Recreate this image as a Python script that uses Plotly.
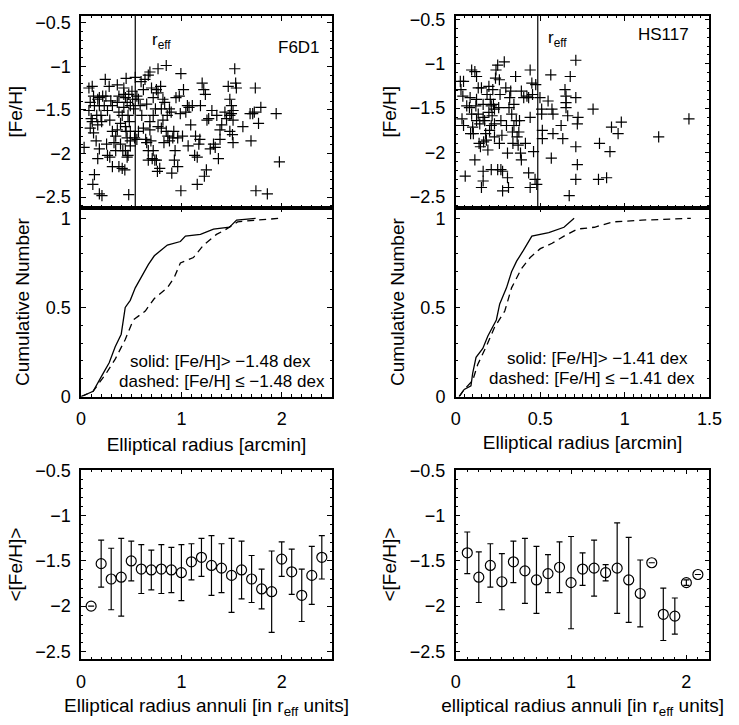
import plotly.graph_objects as go

# ---------------- F6D1 (left column) ----------------
f6_r = [0.03, 0.078, 0.111, 0.124, 0.091, 0.078, 0.133, 0.10, 0.091, 0.124, 0.111, 0.166, 0.182, 0.156,
        0.198, 0.15, 0.182, 0.166, 0.133, 0.117, 0.182, 0.208, 0.182, 0.215, 0.205, 0.166,
        0.241, 0.247, 0.231, 0.263, 0.28, 0.296, 0.312, 0.286, 0.312, 0.254, 0.263, 0.286, 0.328, 0.345,
        0.361, 0.361, 0.377, 0.393, 0.361, 0.345, 0.393, 0.416, 0.377, 0.41, 0.312, 0.436, 0.442, 0.449,
        0.426, 0.426, 0.442, 0.459, 0.426, 0.475, 0.491, 0.468, 0.481, 0.442, 0.491, 0.459, 0.491, 0.468,
        0.459, 0.524, 0.514, 0.507, 0.475, 0.491, 0.41, 0.449, 0.377,
        0.54, 0.533, 0.556, 0.556, 0.572, 0.589, 0.605, 0.598, 0.621, 0.637, 0.644, 0.654, 0.67, 0.686,
        0.686, 0.702, 0.719, 0.719, 0.735, 0.751, 0.741, 0.767, 0.767, 0.767, 0.784, 0.793, 0.80, 0.816,
        0.816, 0.826, 0.833, 0.849, 0.849, 0.859, 0.654, 0.67, 0.696, 0.709, 0.761, 0.572, 0.621, 0.67,
        0.719, 0.80, 0.751, 0.686,
        0.865, 0.881, 0.898, 0.881, 0.914, 0.904, 0.924, 0.93, 0.937, 0.946, 0.963, 0.963, 0.979, 0.989,
        0.995, 0.995, 1.011, 1.021, 1.044, 1.06, 1.067, 1.076, 1.093, 1.109, 1.132, 1.141, 1.158, 1.158,
        1.174, 1.19, 1.184,
        1.207, 1.223, 1.239, 1.255, 1.272, 1.229, 1.249, 1.288, 1.304, 1.32, 1.337, 1.353, 1.369, 1.385,
        1.402, 1.385, 1.434, 1.45, 1.467, 1.483, 1.483, 1.499, 1.499, 1.515, 1.515, 1.483, 1.532, 1.541,
        1.515, 1.548, 1.509,
        1.613, 1.685, 1.694, 1.711, 1.727, 1.737, 1.769, 1.792, 1.743, 1.857, 1.945, 1.977]
f6_feh = [-1.929, -1.248, -1.229, -1.34, -1.413, -1.506, -1.45, -1.598, -1.708, -1.763, -1.634, -1.377,
          -1.358, -1.561, -1.561, -1.855, -1.947, -2.058, -2.242, -2.353, -2.463, -2.482, -1.45, -1.34,
          -1.634, -1.671,
          -1.148, -1.34, -1.45, -1.506, -1.229, -1.395, -1.45, -1.616, -1.745, -1.892, -2.021, -2.04, -1.874,
          -1.966, -1.211, -1.413, -1.524, -1.653, -1.727, -1.80, -1.892, -1.966, -2.15, -2.169, -2.15,
          -2.187, -1.966, -1.137, -1.248, -1.321, -1.358, -1.413, -1.469, -1.321, -1.45, -1.561, -1.634,
          -1.69, -1.745, -1.819, -1.855, -2.021, -2.04, -1.487, -1.377, -1.285, -2.47, -1.911, -1.561,
          -1.745, -1.34,
          -1.126, -1.819, -1.837, -1.34, -1.377, -1.45, -1.561, -1.174, -1.266, -1.148, -1.837, -1.432,
          -1.10, -1.064, -1.634, -1.248, -1.358, -1.561, -2.076, -1.266, -1.487, -1.027, -1.303, -1.69,
          -2.169, -1.229, -1.487, -1.377, -1.616, -1.874, -1.413, -0.99, -1.745, -1.561, -1.874, -1.966,
          -1.855, -2.058, -2.205, -1.745, -1.708, -2.076, -1.966, -1.708, -2.076, -1.727,
          -1.80, -1.487, -1.524, -1.855, -1.819, -2.224, -1.745, -2.076, -1.966, -1.358, -1.819, -2.15,
          -1.34, -1.542, -1.082, -2.426, -1.80, -1.266, -1.524, -1.45, -1.911, -1.469, -1.671, -1.45,
          -2.021, -1.80, -2.04, -2.353, -1.892, -1.45, -1.837,
          -1.192, -1.266, -1.321, -1.616, -1.598, -2.26, -2.187, -1.947, -1.506, -1.892, -1.929, -1.561,
          -2.058, -1.727, -1.671, -1.837, -1.524, -1.598, -1.229, -1.377, -1.561, -1.45, -1.542, -1.506,
          -1.616, -1.745, -1.027, -1.192, -1.874, -1.248, -1.782,
          -1.69, -1.542, -1.855, -1.542, -1.524, -1.248, -1.653, -1.469, -2.426, -2.463, -1.542, -2.095]
f6_reff = 0.54

f6_solid_r = [0.00, 0.12, 0.21, 0.28, 0.34, 0.40, 0.44, 0.49, 0.54, 0.60, 0.67, 0.73, 0.86, 0.99, 1.04,
              1.19, 1.32, 1.48, 1.55, 1.74]
f6_solid_n = [0.00, 0.03, 0.12, 0.19, 0.28, 0.35, 0.50, 0.54, 0.61, 0.67, 0.74, 0.79, 0.85, 0.87, 0.90,
              0.91, 0.94, 0.95, 0.99, 1.00]
f6_dash_r = [0.00, 0.12, 0.25, 0.34, 0.44, 0.52, 0.64, 0.73, 0.86, 0.93, 0.99, 1.12, 1.22, 1.35, 1.42,
             1.56, 1.74, 1.98]
f6_dash_n = [0.00, 0.03, 0.13, 0.21, 0.32, 0.43, 0.48, 0.55, 0.61, 0.67, 0.75, 0.78, 0.85, 0.91, 0.93,
             0.98, 0.99, 1.00]

f6_ann = [0.1, 0.2, 0.3, 0.4, 0.5, 0.6, 0.7, 0.8, 0.9, 1.0, 1.1, 1.2, 1.3, 1.4, 1.5, 1.6, 1.7, 1.8,
          1.9, 2.0, 2.1, 2.2, 2.3, 2.4]
f6_mean = [-2.00, -1.53, -1.70, -1.68, -1.50, -1.59, -1.60, -1.59, -1.60, -1.63, -1.51, -1.46, -1.55,
           -1.58, -1.66, -1.60, -1.70, -1.81, -1.84, -1.48, -1.62, -1.88, -1.66, -1.46]
f6_err = [0.00, 0.26, 0.34, 0.43, 0.22, 0.27, 0.22, 0.27, 0.25, 0.31, 0.20, 0.21, 0.33, 0.27, 0.41,
          0.32, 0.26, 0.22, 0.45, 0.19, 0.25, 0.29, 0.32, 0.24]

# ---------------- HS117 (right column) ----------------
hs_r = [0.027, 0.046, 0.031, 0.042, 0.037, 0.046, 0.056, 0.065, 0.081, 0.085, 0.094, 0.10, 0.104, 0.088,
        0.094, 0.113, 0.123, 0.133, 0.123, 0.119, 0.133, 0.142, 0.138, 0.146, 0.123, 0.113, 0.162, 0.162,
        0.152, 0.152, 0.162, 0.162, 0.171, 0.177, 0.181, 0.165, 0.185, 0.196, 0.204, 0.21, 0.215, 0.196,
        0.21, 0.19, 0.20, 0.219, 0.223, 0.229, 0.235, 0.238, 0.229, 0.21, 0.229,
        0.248, 0.258, 0.262, 0.254, 0.267, 0.273, 0.258, 0.267, 0.287, 0.277, 0.296, 0.30, 0.306, 0.315,
        0.312, 0.306, 0.319, 0.325, 0.331, 0.335, 0.338, 0.344, 0.344, 0.354, 0.358, 0.363, 0.369, 0.373,
        0.377, 0.383, 0.388, 0.388, 0.402, 0.412, 0.421, 0.431, 0.44, 0.431, 0.44, 0.45, 0.454, 0.46,
        0.469, 0.473, 0.479, 0.44, 0.248, 0.277,
        0.498, 0.508, 0.508, 0.512, 0.512, 0.546, 0.562, 0.565, 0.569, 0.575, 0.575, 0.623, 0.633, 0.646,
        0.652, 0.652, 0.652, 0.662, 0.671, 0.677, 0.71, 0.71, 0.71, 0.719, 0.719, 0.723, 0.71,
        0.812, 0.85, 0.844, 0.892, 0.912, 0.921, 0.96, 0.979, 1.20, 1.379]
hs_feh = [-1.199, -1.199, -1.29, -1.364, -1.621, -1.695, -2.265, -1.474, -1.493, -1.382, -1.566, -1.713,
          -1.787, -1.787, -1.07, -1.088, -1.143, -1.272, -1.401, -1.474, -1.566, -1.676, -1.897, -1.934,
          -1.64, -2.081, -2.21, -2.32, -2.393, -1.272, -1.456, -1.603, -1.64, -1.787, -1.86, -1.879,
          -1.346, -1.254, -1.401, -1.474, -1.585, -1.548, -1.695, -1.971, -1.75, -1.29, -1.456, -1.511,
          -1.162, -1.07, -1.824, -2.191, -1.676,
          -1.015, -1.18, -1.346, -1.493, -1.64, -1.805, -1.897, -2.191, -0.978, -2.43, -1.272, -1.695,
          -2.283, -1.493, -2.393, -2.007, -1.382, -1.309, -1.566, -1.768, -1.897, -1.456, -1.695, -1.143,
          -1.64, -1.824, -1.915, -1.768, -1.64, -2.007, -2.081, -1.309, -1.382, -1.897, -1.364, -1.382,
          -1.07, -2.228, -2.393, -1.217, -1.346, -1.989, -2.301, -1.235, -2.357, -1.603, -2.191, -2.21,
          -1.382, -1.511, -1.566, -1.75, -1.842, -1.419, -1.125, -2.063, -1.511, -1.566, -1.787, -1.695,
          -1.842, -1.29, -1.364, -1.438, -1.493, -1.585, -2.485, -1.143, -0.96, -1.934, -1.382, -1.676,
          -2.136, -1.603, -2.301,
          -1.511, -1.897, -2.301, -2.283, -1.989, -1.713, -1.787, -1.658, -1.824, -1.621]
hs_reff = 0.485

hs_solid_r = [0.02, 0.05, 0.09, 0.10, 0.12, 0.16, 0.19, 0.24, 0.26, 0.30, 0.33, 0.36, 0.40, 0.45,
              0.55, 0.64, 0.70]
hs_solid_n = [0.00, 0.04, 0.06, 0.13, 0.22, 0.27, 0.34, 0.43, 0.52, 0.61, 0.70, 0.76, 0.82, 0.90,
              0.92, 0.95, 1.00]
hs_dash_r = [0.02, 0.05, 0.10, 0.13, 0.18, 0.23, 0.29, 0.33, 0.39, 0.44, 0.50, 0.57, 0.64, 0.72,
             0.82, 0.93, 1.10, 1.39]
hs_dash_n = [0.00, 0.04, 0.09, 0.18, 0.28, 0.39, 0.48, 0.61, 0.72, 0.78, 0.83, 0.86, 0.90, 0.94,
             0.95, 0.98, 0.99, 1.00]

hs_ann = [0.1, 0.2, 0.3, 0.4, 0.5, 0.6, 0.7, 0.8, 0.9, 1.0, 1.1, 1.2, 1.3, 1.4, 1.5, 1.6, 1.7, 1.8,
          1.9, 2.0, 2.1]
hs_mean = [-1.41, -1.68, -1.55, -1.73, -1.51, -1.61, -1.71, -1.64, -1.57, -1.74, -1.59, -1.58, -1.63,
           -1.58, -1.71, -1.86, -1.52, -2.09, -2.11, -1.74, -1.65]
hs_err = [0.23, 0.28, 0.24, 0.31, 0.23, 0.36, 0.37, 0.21, 0.28, 0.51, 0.18, 0.31, 0.09, 0.50, 0.47,
          0.37, 0.00, 0.29, 0.20, 0.03, 0.00]

FONT = "Liberation Sans"
BLACK = "black"

fig = go.Figure()


def cross_trace(x, y, xa, ya):
    return go.Scatter(x=x, y=y, mode="markers", xaxis=xa, yaxis=ya, showlegend=False,
                      marker=dict(symbol="cross-thin", size=8, line=dict(width=1.2, color=BLACK)))


def err_trace(x, y, e, xa, ya):
    return go.Scatter(x=x, y=y, mode="markers", xaxis=xa, yaxis=ya, showlegend=False,
                      marker=dict(symbol="circle-open", size=10, color=BLACK, line=dict(width=1.2)),
                      error_y=dict(type="data", array=e, color=BLACK, thickness=1.2, width=3))


def line_trace(x, y, xa, ya, dash):
    return go.Scatter(x=x, y=y, mode="lines", xaxis=xa, yaxis=ya, showlegend=False,
                      line=dict(color=BLACK, width=1.3, dash=dash))


fig.add_trace(cross_trace(f6_r, f6_feh, "x", "y"))
fig.add_trace(line_trace(f6_solid_r, f6_solid_n, "x2", "y2", "solid"))
fig.add_trace(line_trace(f6_dash_r, f6_dash_n, "x2", "y2", "7px,5px"))
fig.add_trace(err_trace(f6_ann, f6_mean, f6_err, "x3", "y3"))

fig.add_trace(cross_trace(hs_r, hs_feh, "x4", "y4"))
fig.add_trace(line_trace(hs_solid_r, hs_solid_n, "x5", "y5", "solid"))
fig.add_trace(line_trace(hs_dash_r, hs_dash_n, "x5", "y5", "7px,5px"))
fig.add_trace(err_trace(hs_ann, hs_mean, hs_err, "x6", "y6"))

W, H = 739, 725
left = [78 / W, 335 / W]
right = [462 / W, 722 / W]
top = [1 - 204 / H, 1 - 7 / H]
mid = [1 - 398 / H, 1 - 204 / H]
bot = [1 - 668 / H, 1 - 473 / H]


def ax(domain, rng, dtick, minor, title="", labels=True, anchor=None, standoff=6):
    return dict(domain=domain, range=rng, dtick=dtick, tick0=0, ticks="inside", ticklen=5,
                tickwidth=1, tickcolor=BLACK, showline=True, linecolor=BLACK, linewidth=1.5,
                mirror="ticks", showgrid=False, zeroline=False, showticklabels=labels,
                ticklabelstandoff=5,
                minor=dict(dtick=minor, ticks="inside", ticklen=2.5, tickcolor=BLACK, tickwidth=1),
                title=dict(text=title, standoff=standoff, font=dict(size=19)), anchor=anchor,
                tickfont=dict(size=18, color=BLACK))


feh_title = "[Fe/H]"
fig.update_layout(
    width=W, height=H, margin=dict(l=0, r=0, t=0, b=0),
    plot_bgcolor="white", paper_bgcolor="white",
    font=dict(family=FONT, size=19, color=BLACK),
    xaxis=ax(left, [0, 2.5], 1, 0.1, labels=False, anchor="y"),
    yaxis=ax(top, [-2.62, -0.42], 0.5, 0.1, feh_title, anchor="x", standoff=8),
    xaxis2=ax(left, [0, 2.5], 1, 0.1, "Elliptical radius [arcmin]", anchor="y2", standoff=10),
    yaxis2=ax(mid, [0, 1.06], 0.5, 0.1, "Cumulative Number", anchor="x2", standoff=11),
    xaxis3=ax(left, [0, 2.5], 1, 0.1, "Elliptical radius annuli [in r<sub>eff</sub> units]",
              anchor="y3", standoff=8),
    yaxis3=ax(bot, [-2.59, -0.49], 0.5, 0.1, "&lt;[Fe/H]&gt;", anchor="x3", standoff=8),
    xaxis4=ax(right, [0, 1.5], 0.5, 0.05, labels=False, anchor="y4"),
    yaxis4=ax(top, [-2.62, -0.46], 0.5, 0.1, feh_title, anchor="x4", standoff=8),
    xaxis5=ax(right, [0, 1.5], 0.5, 0.05, "Elliptical radius [arcmin]", anchor="y5", standoff=8),
    yaxis5=ax(mid, [0, 1.06], 0.5, 0.1, "Cumulative Number", anchor="x5", standoff=11),
    xaxis6=ax(right, [0, 2.2], 1, 0.1, "elliptical radius annuli [in r<sub>eff</sub> units]",
              anchor="y6", standoff=8),
    yaxis6=ax(bot, [-2.59, -0.49], 0.5, 0.1, "&lt;[Fe/H]&gt;", anchor="x6", standoff=8),
)

# effective radius markers
for xa, ya, reff in [("x", "y", f6_reff), ("x4", "y4", hs_reff)]:
    fig.add_shape(type="line", xref=xa, yref=ya + " domain", x0=reff, x1=reff, y0=0, y1=1,
                  line=dict(color=BLACK, width=1.2))

notes = [
    ("x domain", "y domain", 0.32, 0.87, "r<sub>eff</sub>", "center"),
    ("x domain", "y domain", 0.96, 0.835, "F6D1", "right"),
    ("x4 domain", "y4 domain", 0.40, 0.88, "r<sub>eff</sub>", "center"),
    ("x4 domain", "y4 domain", 0.927, 0.905, "HS117", "right"),
    ("x2 domain", "y2 domain", 0.556, 0.185, "solid: [Fe/H]&gt; −1.48 dex", "center"),
    ("x2 domain", "y2 domain", 0.56, 0.08, "dashed: [Fe/H] ≤ −1.48 dex", "center"),
    ("x5 domain", "y5 domain", 0.558, 0.20, "solid: [Fe/H]&gt; −1.41 dex", "center"),
    ("x5 domain", "y5 domain", 0.538, 0.095, "dashed: [Fe/H] ≤ −1.41 dex", "center"),
]
for xr, yr, xv, yv, txt, al in notes:
    fig.add_annotation(xref=xr, yref=yr, x=xv, y=yv, text=txt, showarrow=False,
                       xanchor=al, yanchor="middle", font=dict(size=17, color=BLACK))

fig.write_html("out.html", config={"displayModeBar": False},
               post_script="document.body.style.margin='0';document.body.style.overflow='hidden';")
